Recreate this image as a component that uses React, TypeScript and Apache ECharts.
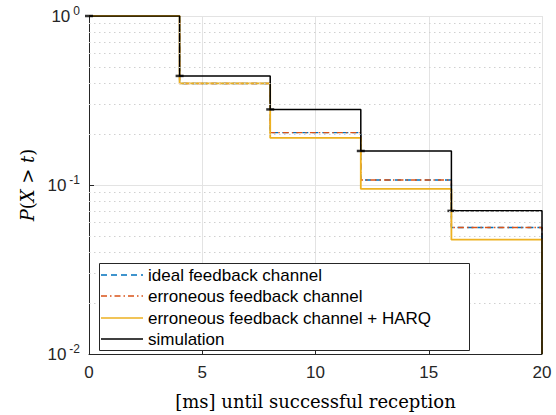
import React, { useEffect, useRef } from "react";
import * as echarts from "echarts";

const xSteps = [0, 4, 8, 12, 16, 20];
const ideal = [1, 0.399, 0.204, 0.107, 0.056, 0.01];
const erroneous = [1, 0.399, 0.204, 0.107, 0.056, 0.01];
const harq = [1, 0.399, 0.19, 0.0948, 0.0475, 0.01];
const simulation = [1, 0.442, 0.28, 0.159, 0.0703, 0.01];
const minorGrid = [0.02, 0.03, 0.04, 0.05, 0.06, 0.07, 0.08, 0.09, 0.2, 0.3, 0.4, 0.5, 0.6, 0.7, 0.8, 0.9];
const seriesNames = ["ideal feedback channel", "erroneous feedback channel", "erroneous feedback channel + HARQ", "simulation"];
const seriesColors = ["#0072BD", "#D95319", "#EDB120", "#000000"];
const seriesDash: (number[] | null)[] = [[6, 4], [6, 3, 1.5, 3], null, null];
const seriesWidth = [1.4, 1.4, 1.8, 1.5];

const pts = (ys: number[]) => xSteps.map((x, i) => [x, ys[i]]);

export default function App() {
  const ref = useRef<HTMLDivElement>(null);
  useEffect(() => {
    document.body.style.margin = "0";
    const chart = echarts.init(ref.current!, undefined, { renderer: "svg" });
    const axisColor = "#262626";
    const legendRows = [275, 296, 318, 339];
    const legendGraphics: any[] = [
      {
        type: "rect",
        z: 50,
        shape: { x: 99.5, y: 263.5, width: 370, height: 87 },
        style: { fill: "#fff", stroke: "#262626", lineWidth: 1 },
      },
    ];
    seriesNames.forEach((name, i) => {
      legendGraphics.push({
        type: "line",
        z: 51,
        shape: { x1: 101, y1: legendRows[i], x2: 143, y2: legendRows[i] },
        style: {
          stroke: seriesColors[i],
          lineWidth: i === 2 ? 1.3 : 1.5,
          lineDash: seriesDash[i] || undefined,
        },
      });
      legendGraphics.push({
        type: "text",
        z: 51,
        x: 148,
        y: legendRows[i],
        style: {
          text: name,
          fontFamily: "Liberation Sans",
          fontSize: 17,
          fill: "#000",
          verticalAlign: "middle",
        },
      });
    });
    const lineSeries = seriesNames.map((name, i) => ({
      name,
      type: "line",
      step: "end",
      showSymbol: false,
      symbol: "none",
      data: pts([ideal, erroneous, harq, simulation][i]),
      color: seriesColors[i],
      lineStyle: {
        color: seriesColors[i],
        width: seriesWidth[i],
        type: seriesDash[i] || "solid",
      },
    }));
    chart.setOption({
      animation: false,
      grid: { left: 89, right: 14, top: 16, bottom: 55 },
      xAxis: {
        type: "value",
        min: 0,
        max: 20,
        interval: 5,
        name: "[ms] until successful reception",
        nameLocation: "middle",
        nameGap: 38,
        nameTextStyle: { fontFamily: "DejaVu Serif", fontSize: 18, color: "#000" },
        axisLine: { show: true, lineStyle: { color: axisColor } },
        axisTick: { inside: true, length: 5, lineStyle: { color: axisColor } },
        axisLabel: { fontFamily: "Liberation Sans", fontSize: 17, color: "#262626", margin: 10 },
        splitLine: { show: true, lineStyle: { color: "#e3e3e3" } },
      },
      yAxis: {
        type: "log",
        logBase: 10,
        min: 0.01,
        max: 1,
        name: "{i|P}{r|(}{i|X}{r| > }{i|t}{r|)}",
        nameLocation: "middle",
        nameRotate: 90,
        nameGap: 52,
        nameTextStyle: {
          rich: {
            i: { fontFamily: "DejaVu Serif", fontStyle: "italic", fontSize: 18, color: "#000" },
            r: { fontFamily: "DejaVu Serif", fontSize: 18, color: "#000" },
          },
        },
        axisLine: { show: true, lineStyle: { color: axisColor } },
        axisTick: { inside: true, length: 5, lineStyle: { color: axisColor } },
        axisLabel: {
          margin: 9,
          formatter: (v: number) => `{b|10}{s|${Math.round(Math.log10(v))}}`,
          rich: {
            b: { fontFamily: "Liberation Sans", fontSize: 17, color: "#262626" },
            s: { fontFamily: "Liberation Sans", fontSize: 12, color: "#262626", padding: [0, 0, 10, 3] },
          },
        },
        splitLine: { show: true, lineStyle: { color: "#e3e3e3" } },
      },
      graphic: legendGraphics,
      series: [
        {
          name: "minor",
          type: "line",
          data: [],
          silent: true,
          markLine: {
            silent: true,
            symbol: "none",
            label: { show: false },
            lineStyle: { color: "#d0d0d0", type: [1.5, 3.5], width: 1 },
            data: minorGrid.map((v) => ({ yAxis: v })),
          },
        },
        ...lineSeries,
        {
          name: "simMarks",
          type: "scatter",
          symbol: "rect",
          symbolSize: [8, 2.5],
          itemStyle: { color: "#000" },
          data: pts(simulation).slice(0, 5),
          z: 3,
        },
      ],
    });
    return () => chart.dispose();
  }, []);
  return <div ref={ref} style={{ width: 556, height: 415 }} />;
}
